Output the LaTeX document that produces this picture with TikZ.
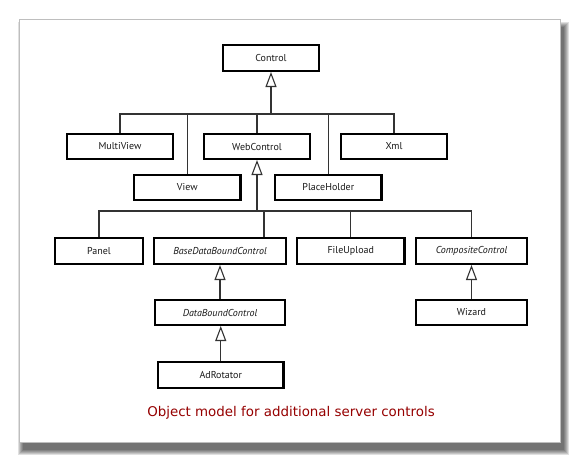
\documentclass[tikz,border=0pt]{standalone}
\usepackage{fontspec}
\setmainfont{PT Sans}
\newfontfamily\capfont{DejaVu Sans}
\usetikzlibrary{arrows.meta,calc}
\definecolor{capred}{RGB}{150,0,0}
\definecolor{framegray}{RGB}{190,190,190}
\newcommand\umlbox[6]{%
  \node[box, minimum width={(#4)-(#2)-2.2}, minimum height={(#5)-(#3)-2.2}]
    (#1) at ({((#2)+(#4))/2},{((#3)+(#5))/2}) {#6};}
\begin{document}
\begin{tikzpicture}[x=1pt,y=-1pt,
  box/.style={draw=black, line width=2.2pt, fill=white, inner sep=0pt,
    font=\fontsize{10}{12}\selectfont, text=black!90},
  conn/.style={draw=black!80, line width=1.1pt},
  inh/.style={conn, -{Triangle[open, fill=white, length=15pt, width=11pt]}}]
\useasboundingbox[fill=white] (0,0) rectangle (580,463);
% shadow
\foreach \r in {0,...,5}{
  \fill[black, opacity=0.12] ({23-\r},{27-\r}) rectangle ({564+\r},{450+\r});
}
\draw[framegray, line width=0.8pt, fill=white] (19,19.5) rectangle (560,442);

\umlbox{control}{222}{44}{320}{72}{Control}
\umlbox{multiview}{66}{133}{174}{160}{MultiView}
\umlbox{webcontrol}{203}{133}{311}{160}{WebControl}
\umlbox{xml}{340}{133}{448}{160}{Xml}
\umlbox{view}{133}{174}{241.5}{201}{View}
\umlbox{placeholder}{274}{174}{382.6}{201}{PlaceHolder}
\umlbox{panel}{54}{237}{144}{265}{Panel}
\umlbox{bdb}{153}{237}{287}{265}{\itshape BaseDataBoundControl}
\umlbox{fileupload}{296}{237}{405.5}{265}{FileUpload}
\umlbox{composite}{415}{237}{528}{265}{\itshape CompositeControl}
\umlbox{databound}{154}{299}{286}{326}{\itshape DataBoundControl}
\umlbox{wizard}{415}{299}{528}{326}{Wizard}
\umlbox{adrotator}{157}{361}{284.5}{389}{AdRotator}

% level 1
\coordinate (b1) at (271,114);
\draw[inh] (b1) -- (control.south);
\draw[conn] (multiview.north) |- (b1) -| (xml.north);
\draw[conn] (view.north) -- (view.north |- b1);
\draw[conn] (webcontrol.north) -- (webcontrol.north |- b1);
\draw[conn] (placeholder.north) -- (placeholder.north |- b1);

% level 2
\coordinate (b2) at (257,211);
\draw[inh] (b2) -- (webcontrol.south);
\draw[conn] (panel.north) |- (b2) -| (composite.north);
\coordinate (bdbtop) at (264,237);
\draw[conn] (bdbtop) -- (bdbtop |- b2);
\draw[conn] (fileupload.north) -- (fileupload.north |- b2);

% level 3
\draw[inh] (databound.north) -- (databound.north |- bdb.south);
\draw[inh] (wizard.north) -- (wizard.north |- composite.south);
\draw[inh] (adrotator.north) -- (adrotator.north |- databound.south);

\node[font=\capfont\fontsize{13.4}{16}\selectfont, text=capred, inner sep=0pt]
  (cap) at (291,413) {Object model for additional server controls};
\end{tikzpicture}
\end{document}
